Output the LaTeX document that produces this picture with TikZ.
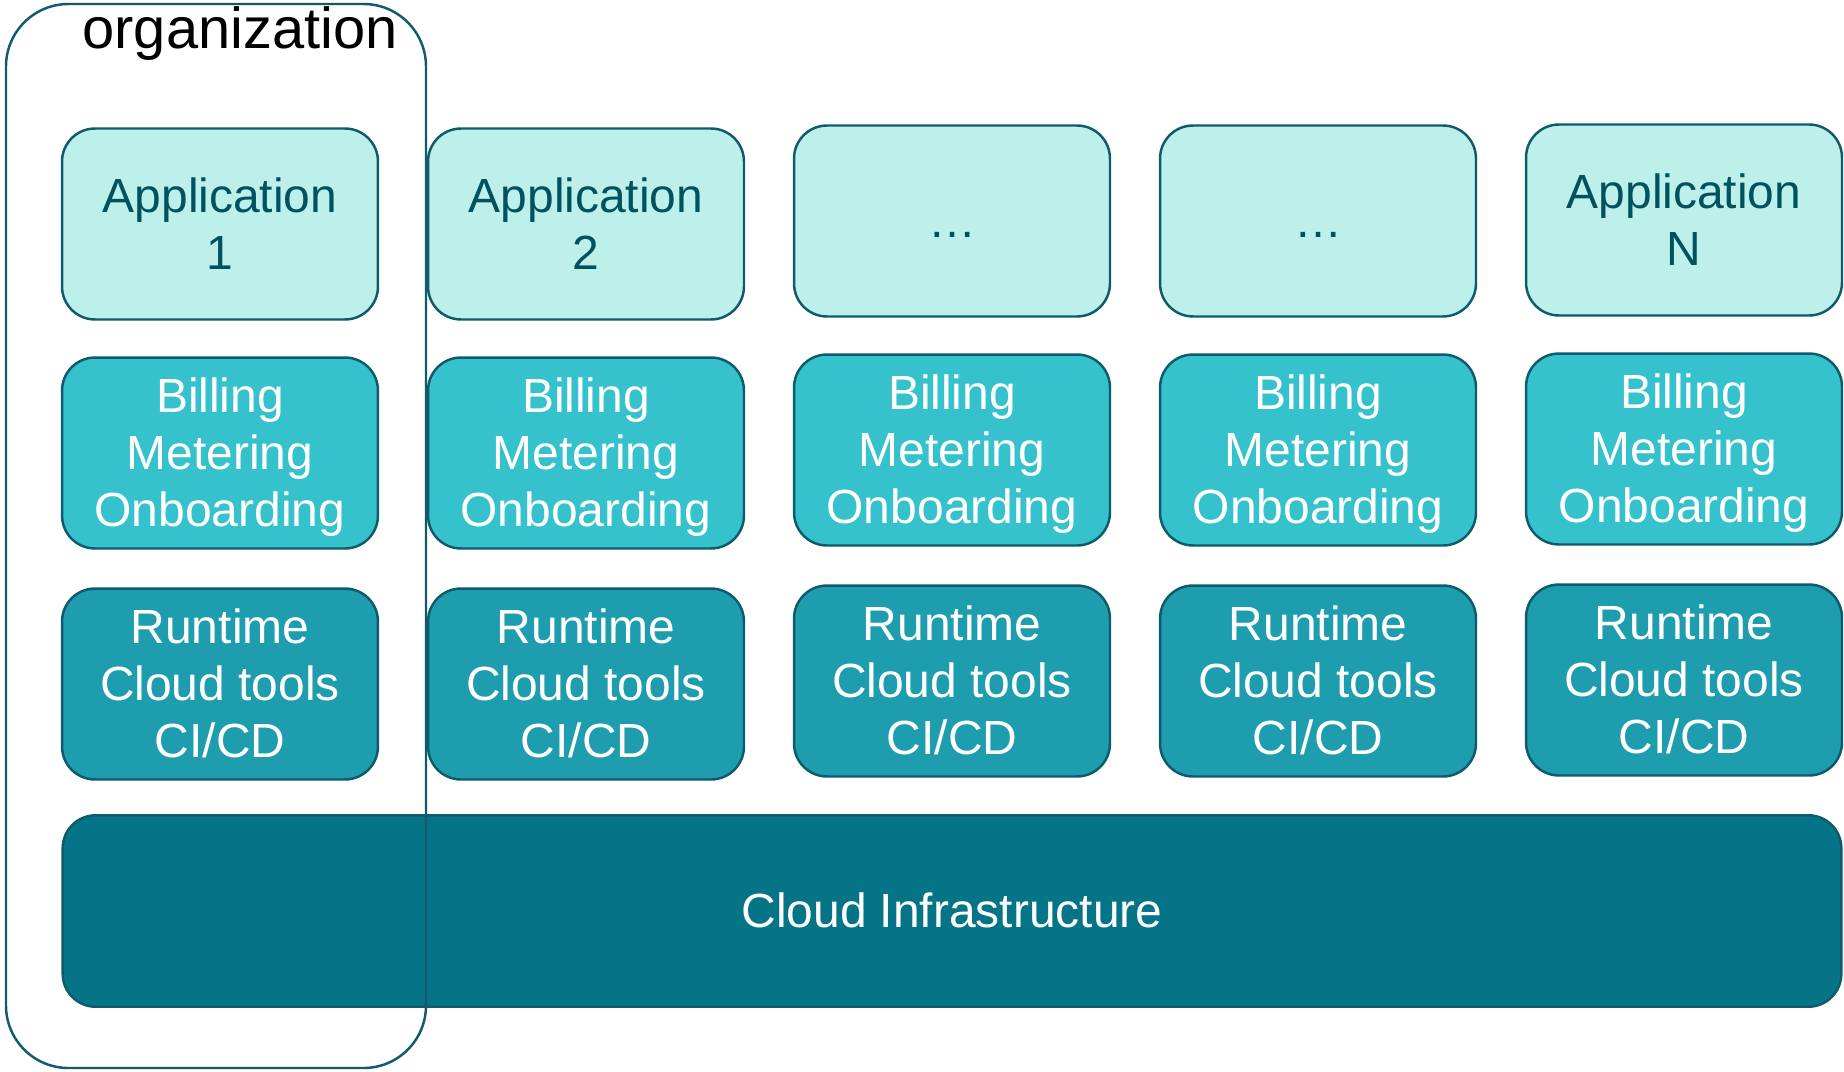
\documentclass[tikz,border=0pt]{standalone}
\usepackage{fontspec}
\setmainfont{Liberation Sans}
\definecolor{edgeteal}{HTML}{0E5B6B}
\definecolor{appfill}{HTML}{BDEFEB}
\definecolor{apptext}{HTML}{00525F}
\definecolor{billfill}{HTML}{36C2CC}
\definecolor{runfill}{HTML}{1E9DAE}
\definecolor{cloudfill}{HTML}{067487}
% line box of the sans font, so that text is centred by its lines
\newcommand\lnstrut{\rule[-0.212em]{0pt}{1.117em}}
\begin{document}
\begin{tikzpicture}[x=0.02cm, y=-0.02cm,
    layer/.style={draw=edgeteal, line width=1.4pt, rounded corners=0.66cm,
                  minimum width=6.32cm, minimum height=3.82cm, inner sep=0pt,
                  align=center, font=\fontsize{27.3}{32.5}\selectfont},
    appbox/.style={layer, fill=appfill, text=apptext},
    billbox/.style={layer, fill=billfill, text=white},
    runbox/.style={layer, fill=runfill, text=white}]
  \useasboundingbox (0,0) rectangle (1844,1071);
  % one column per application
  \foreach \i/\x/\dy/\txt in {1/220/0/{Application\\1}, 2/586/0/{Application\\2},
                               3/952/-3/{…}, 4/1318/-3/{…}, 5/1684/-4/{Application\\N}} {
    \node (app\i) [appbox] at (\x, 224+\dy) {\lnstrut\txt\lnstrut};
    \node (bill\i) [billbox] at (\x, 453+\dy) {\lnstrut Billing\\Metering\\Onboarding\lnstrut};
    \node (run\i) [runbox] at (\x, 684+\dy) {\lnstrut Runtime\\Cloud tools\\CI/CD\lnstrut};
  }
  \node (cloud) [layer, fill=cloudfill, text=white, minimum width=35.58cm,
                 minimum height=3.83cm] at (952, 911) {\lnstrut Cloud Infrastructure};
  % organization frame drawn over the infrastructure
  \draw [edgeteal, line width=1.4pt, rounded corners=1.25cm] (6, 4) rectangle (426, 1068);
  \node (org) [anchor=base, font=\fontsize{32.9}{38}\selectfont] at (240, 49) {organization};
\end{tikzpicture}
\end{document}
